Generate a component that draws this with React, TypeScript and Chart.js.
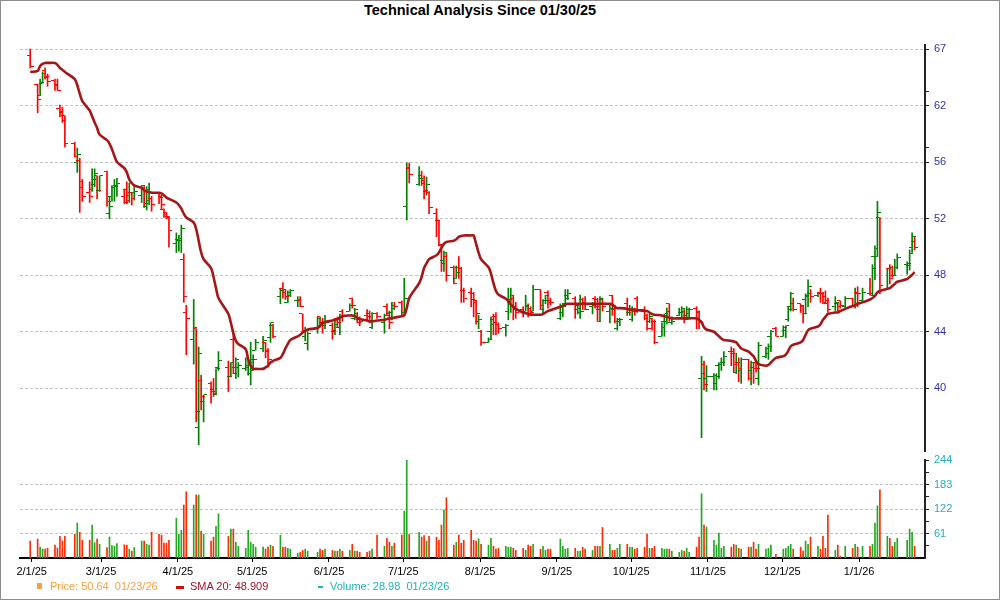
import { useEffect, useRef } from 'react';
import { Chart, registerables } from 'chart.js';

Chart.register(...registerables);

// sessions run from the first to the last bar, weekdays minus market holidays
const firstSession = '2025-01-31';
const lastSession = '2026-01-23';
const holidays = [
  '2025-02-17', '2025-04-18', '2025-05-26', '2025-06-19', '2025-07-04',
  '2025-09-01', '2025-11-27', '2025-12-25', '2026-01-01', '2026-01-19',
];

const monthLabels = [
  '2/1/25', '3/1/25', '4/1/25', '5/1/25', '6/1/25', '7/1/25',
  '8/1/25', '9/1/25', '10/1/25', '11/1/25', '12/1/25', '1/1/26',
];

// log-spaced price grid (labels are the rounded values)
const priceTicks = [40, 43.6, 47.52, 51.8, 56.46, 61.54, 67.08];
const priceMinorTicks = [57.77, 62.92];
const volumeTicks = [61, 122, 183, 244];
const volumeMinorTicks = [30.5, 91.5, 152.5, 213.5];

const opens = [
  66.4,
  63.6, 62.5, 63.7, 64.9, 64.3, 64.0, 63.6, 61.3, 60.9, 60.6, 58.1, 56.4, 56.6, 54.3, 53.9, 54.2, 54.6, 55.3, 54.1,
  55.7, 52.2, 53.6, 54.3, 54.5, 53.6, 54.2, 53.7, 53.9, 53.9, 53.7, 54.2, 52.8, 53.3, 53.4, 53.8, 53.6, 52.5, 52.3, 52.0, 49.9,
  50.2, 50.1, 48.7, 44.9, 43.1, 43.8, 37.7, 40.5, 39.2, 40.3, 39.9, 39.6, 41.3, 41.3, 40.7, 43.1, 41.3, 41.3, 41.2, 41.4, 40.9,
  41.1, 42.4, 42.5, 42.9, 42.4, 43.2, 44.0, 46.0, 46.6, 46.3, 45.6, 46.1, 45.7, 45.7, 44.8, 43.3, 42.8, 43.9, 44.6, 44.2, 44.0,
  44.0, 43.6, 44.5, 43.9, 45.0, 45.0, 45.9, 44.5, 44.8, 44.4, 44.7, 44.8, 43.9, 44.8, 44.2, 45.3, 44.8, 44.9, 45.4, 45.6,
  44.9, 52.8, 55.9, 54.6, 55.3, 54.9, 54.0, 53.9, 52.2, 51.7, 49.7, 48.6, 48.9, 48.1, 47.3, 48.1, 48.0, 46.4, 46.3, 46.2, 45.6, 44.3,
  43.6, 42.9, 43.6, 44.4, 44.6, 44.1, 43.9, 45.0, 45.6, 45.9, 45.3, 45.1, 45.0, 45.4, 45.2, 45.0, 46.5, 45.4, 45.7, 46.3, 45.7,
  44.5, 44.9, 45.5, 46.1, 45.9, 45.1, 44.9, 45.8, 45.6, 45.3, 45.9, 45.8, 45.1, 45.8, 45.0, 46.1, 45.1, 43.8, 44.3, 45.5, 44.9,
  44.4, 45.1, 45.9, 45.1, 44.7, 44.3, 44.5, 44.3, 43.3, 44.3, 44.3, 45.5, 44.2, 44.7, 44.9, 45.0, 44.7, 44.8, 45.2, 44.9, 40.6, 41.5, 40.6,
  40.7, 40.3, 41.4, 41.5, 41.6, 42.3, 42.3, 41.0, 41.6, 41.1, 41.8, 41.1, 41.3, 41.6, 40.6, 42.0, 42.2, 43.3, 43.8,
  43.3, 43.7, 44.4, 45.3, 45.5, 45.5, 45.3, 45.8, 46.0, 46.2, 46.1, 46.3, 46.2, 46.0, 45.5, 45.3, 45.5, 45.7, 45.3, 45.9, 45.3, 46.3,
  45.7, 46.2, 46.2, 48.9, 48.9, 51.9, 46.5, 48.0, 48.1, 47.5, 48.1, 48.3, 48.2, 49.6, 50.0,
];

const highs = [
  67.1,
  63.6, 64.1, 64.8, 65.2, 64.6, 64.1, 64.1, 61.6, 61.4, 60.6, 58.2, 57.7, 56.8, 55.0, 54.8, 55.9, 55.9, 55.3, 55.3,
  55.7, 53.6, 54.5, 55.0, 55.1, 54.2, 54.8, 54.7, 53.9, 54.4, 54.5, 54.4, 54.4, 54.7, 53.6, 53.8, 53.7, 52.6, 52.3, 52.0, 50.7,
  50.5, 51.3, 49.1, 45.4, 45.8, 43.8, 42.6, 40.8, 39.6, 40.4, 40.6, 41.2, 42.3, 41.7, 41.6, 43.7, 41.9, 41.6, 41.9, 41.7, 42.9,
  42.1, 43.1, 43.3, 42.9, 42.5, 44.2, 44.1, 46.6, 47.0, 46.5, 46.4, 46.5, 46.0, 46.0, 44.8, 43.9, 43.6, 44.6, 44.6, 44.5, 44.7,
  44.2, 44.5, 44.6, 44.8, 45.1, 45.5, 45.9, 45.2, 44.9, 44.6, 45.1, 45.0, 44.9, 44.9, 44.8, 45.5, 45.0, 45.6, 45.6, 45.7,
  47.3, 56.4, 56.4, 56.1, 55.7, 55.3, 55.2, 54.0, 52.6, 51.7, 49.8, 49.3, 49.2, 48.2, 48.2, 48.9, 48.1, 46.6, 46.6, 46.3, 45.7, 44.7,
  43.7, 43.2, 44.6, 44.8, 44.9, 44.2, 44.1, 46.6, 46.6, 46.1, 45.6, 45.3, 46.1, 45.5, 45.3, 46.8, 46.5, 45.8, 46.1, 46.4, 45.9,
  45.5, 45.5, 46.5, 46.5, 46.0, 45.5, 46.1, 45.9, 46.0, 45.6, 46.0, 45.9, 46.0, 45.9, 45.5, 46.1, 45.4, 44.5, 44.5, 45.9, 45.4,
  45.3, 45.2, 46.0, 45.3, 44.8, 44.8, 44.5, 44.4, 44.2, 44.8, 45.2, 45.5, 44.6, 45.2, 45.3, 45.1, 45.3, 45.2, 45.3, 45.0, 42.0, 41.7, 41.4,
  40.9, 40.9, 41.6, 41.9, 42.3, 42.6, 42.5, 42.2, 41.9, 41.9, 41.8, 41.7, 41.6, 41.7, 42.9, 42.6, 42.8, 43.7, 43.9,
  44.0, 44.0, 45.3, 46.3, 45.9, 45.5, 45.4, 46.2, 47.2, 46.5, 46.3, 46.6, 46.3, 46.4, 45.9, 46.0, 45.6, 45.7, 46.0, 45.9, 46.6, 46.7,
  46.6, 47.3, 48.3, 49.7, 53.2, 51.9, 48.0, 48.3, 48.2, 48.7, 49.1, 48.5, 49.4, 50.7, 50.4,
];

const lows = [
  65.2,
  60.9, 62.5, 63.7, 64.1, 63.4, 63.0, 63.0, 60.5, 60.0, 57.8, 56.9, 55.6, 52.3, 53.2, 53.1, 54.0, 54.4, 53.4, 54.0,
  52.8, 51.8, 53.2, 53.2, 53.6, 53.0, 53.0, 53.1, 52.9, 53.3, 53.1, 52.7, 52.5, 52.9, 52.4, 53.0, 52.6, 51.9, 51.8, 49.6, 49.2,
  49.3, 49.2, 45.6, 42.1, 41.5, 38.0, 36.7, 38.7, 38.0, 39.1, 39.5, 39.6, 41.1, 39.8, 40.7, 40.9, 40.6, 40.7, 41.1, 40.8, 40.2,
  41.1, 42.4, 42.3, 41.9, 41.3, 42.9, 43.2, 45.5, 45.9, 45.8, 45.6, 46.0, 45.3, 45.3, 43.6, 43.0, 42.4, 43.5, 43.9, 43.5, 43.8,
  43.1, 43.4, 43.9, 43.4, 44.3, 45.0, 45.2, 44.4, 44.2, 44.0, 44.4, 44.2, 43.8, 44.5, 43.5, 44.7, 43.8, 44.4, 45.1, 44.7,
  44.7, 51.7, 54.7, 54.5, 54.5, 53.4, 53.7, 52.2, 50.4, 49.7, 47.8, 47.8, 47.1, 46.9, 47.3, 47.3, 45.6, 45.6, 45.3, 44.6, 44.1, 43.8,
  42.7, 42.9, 43.1, 43.4, 43.4, 43.5, 43.3, 44.4, 44.9, 44.4, 44.5, 44.6, 45.0, 44.6, 44.7, 45.0, 45.1, 44.8, 45.5, 45.2, 45.4,
  44.4, 44.6, 45.3, 45.8, 44.5, 44.8, 44.5, 45.1, 45.1, 44.8, 45.2, 44.3, 44.3, 45.0, 44.2, 44.7, 44.2, 43.7, 44.0, 44.7, 44.7,
  44.3, 44.7, 44.9, 44.4, 43.7, 44.2, 43.7, 42.8, 43.3, 43.3, 44.1, 44.3, 44.1, 44.7, 44.6, 44.2, 44.6, 44.6, 43.8, 43.8, 37.1, 39.9, 39.8,
  39.9, 39.9, 40.6, 41.1, 41.4, 41.4, 41.0, 40.9, 40.4, 40.3, 40.5, 40.2, 40.3, 41.0, 40.2, 41.9, 41.8, 42.3, 43.3,
  43.3, 43.2, 44.3, 45.0, 45.0, 44.9, 44.2, 44.8, 45.3, 45.6, 46.0, 45.6, 45.5, 45.5, 44.9, 45.0, 45.0, 45.2, 45.2, 45.3, 45.2, 45.3,
  45.6, 46.1, 46.1, 47.2, 48.9, 46.2, 46.5, 46.9, 47.4, 47.5, 48.0, 47.6, 47.9, 49.2, 49.4,
];

const closes = [
  65.3,
  62.1, 63.8, 64.6, 64.4, 63.9, 63.5, 63.0, 61.0, 60.2, 58.1, 57.0, 57.1, 54.8, 53.6, 53.6, 55.0, 55.5, 54.1, 55.3,
  53.2, 52.8, 54.3, 54.4, 54.7, 53.1, 53.3, 53.9, 53.4, 54.0, 54.5, 53.0, 54.2, 53.9, 52.9, 53.5, 52.9, 52.1, 51.9, 50.9, 50.1,
  50.3, 51.0, 46.0, 44.5, 43.9, 38.6, 42.2, 39.5, 39.6, 39.8, 39.7, 41.2, 41.7, 40.7, 41.6, 40.9, 41.8, 41.4, 41.3, 41.6, 41.8,
  41.8, 42.9, 43.0, 42.3, 41.8, 44.2, 43.3, 46.4, 46.5, 46.0, 46.3, 46.4, 45.8, 45.3, 43.7, 43.7, 43.5, 44.5, 44.2, 44.0, 44.2,
  43.7, 44.1, 44.2, 44.6, 44.6, 45.4, 45.4, 45.1, 44.2, 44.3, 44.6, 44.3, 44.8, 44.6, 44.7, 44.7, 44.2, 45.2, 45.3, 44.7,
  45.9, 56.0, 55.4, 55.1, 54.7, 54.1, 54.6, 52.7, 51.7, 49.8, 48.4, 49.2, 47.5, 46.9, 47.7, 48.0, 46.4, 45.9, 45.8, 45.7, 44.8, 44.4,
  42.9, 43.1, 44.1, 44.2, 44.1, 43.8, 44.0, 45.8, 46.1, 45.1, 44.9, 44.9, 45.3, 44.8, 44.9, 46.5, 45.1, 45.7, 46.1, 45.6, 45.6,
  45.3, 45.3, 45.9, 46.2, 45.4, 45.2, 45.0, 45.5, 45.1, 45.4, 45.3, 44.3, 45.9, 45.3, 45.2, 45.2, 44.3, 44.4, 44.4, 44.9, 45.1,
  45.0, 45.0, 45.1, 44.5, 43.8, 44.6, 44.3, 42.9, 43.9, 44.8, 45.0, 44.5, 44.3, 44.9, 45.2, 44.4, 45.1, 45.1, 45.0, 44.2, 40.9, 40.2, 40.7,
  40.8, 40.7, 41.5, 41.6, 42.0, 42.2, 41.5, 41.6, 41.2, 41.8, 40.6, 41.6, 41.2, 41.2, 42.7, 42.5, 42.6, 43.6, 43.3,
  43.9, 44.0, 45.1, 46.2, 45.1, 45.4, 44.8, 46.1, 46.7, 46.0, 46.2, 46.2, 45.6, 45.7, 45.1, 45.6, 45.3, 45.4, 45.9, 45.4, 46.2, 46.2,
  46.3, 46.1, 48.0, 49.5, 52.3, 46.8, 48.0, 47.3, 47.5, 48.1, 48.8, 48.4, 49.1, 50.4, 49.6,
];

// volume, thousands of shares
const volumes = [
  42,
  47, 27, 22, 22, 24, 32, 25, 54, 42, 54, 59, 87, 64, 44, 44, 82, 38, 47, 34,
  26, 52, 31, 29, 36, 33, 32, 22, 17, 26, 42, 42, 34, 32, 64, 59, 57, 37, 37, 44, 99,
  59, 69, 132, 165, 132, 157, 157, 67, 59, 42, 52, 79, 110, 54, 72, 72, 39, 29, 24, 69, 39,
  34, 27, 27, 22, 27, 32, 29, 57, 27, 27, 24, 22, 12, 14, 19, 22, 17, 14, 22, 19, 22,
  19, 17, 17, 22, 17, 19, 34, 17, 17, 14, 14, 17, 22, 57, 29, 49, 39, 29, 37, 57,
  117, 244, 59, 64, 52, 56, 42, 54, 52, 44, 82, 120, 150, 32, 39, 57, 37, 44, 69, 44, 42, 48,
  34, 32, 49, 29, 22, 24, 29, 27, 27, 24, 19, 24, 19, 32, 29, 34, 22, 29, 19, 22, 22,
  47, 29, 22, 24, 24, 17, 17, 27, 22, 19, 29, 29, 29, 76, 34, 19, 19, 24, 34, 34, 27,
  27, 22, 24, 27, 59, 24, 24, 29, 24, 22, 22, 22, 17, 14, 19, 17, 24, 14, 27, 52, 160, 82, 77,
  44, 32, 62, 24, 29, 27, 34, 32, 24, 22, 27, 27, 39, 22, 34, 22, 24, 32, 9,
  22, 24, 29, 34, 22, 27, 17, 42, 34, 52, 29, 22, 54, 24, 107, 19, 32, 4, 29, 24, 34, 27,
  29, 29, 34, 87, 130, 170, 54, 49, 29, 39, 49, 44, 72, 64, 29,
];

// 20-day simple moving average, as drawn
const sma20 = [
  64.8,
  64.9, 65.4, 65.6, 65.7, 65.7, 65.7, 65.5, 65.2, 65.0, 64.8, 64.1, 63.5, 62.7, 62.0, 61.1, 60.55, 60.0, 59.5, 58.9,
  58.4, 58.1, 57.6, 57.0, 56.5, 55.95, 55.6, 55.0, 54.7, 54.5, 54.3, 54.1, 54.0, 53.95, 53.9, 53.9, 53.85, 53.7, 53.5, 53.4, 53.1,
  52.9, 52.6, 52.2, 51.9, 51.5, 51.0, 50.1, 49.2, 48.7, 48.05, 47.4, 46.6, 45.9, 44.8, 44.2, 43.5, 43.0, 42.8, 42.45, 41.8, 41.4,
  41.2, 41.2, 41.2, 41.3, 41.4, 41.6, 41.7, 41.9, 42.15, 42.5, 42.8, 43.05, 43.3, 43.4, 43.55, 43.65, 43.75, 43.85, 44.0, 44.15, 44.25,
  44.35, 44.4, 44.45, 44.55, 44.65, 44.7, 44.7, 44.65, 44.55, 44.45, 44.35, 44.3, 44.3, 44.35, 44.4, 44.45, 44.5, 44.5, 44.55, 44.65,
  44.7, 45.2, 45.9, 46.95, 47.4, 48.05, 48.4, 48.7, 49.0, 49.2, 49.55, 49.85, 50.0, 50.1, 50.2, 50.4, 50.45, 50.5, 50.5, 50.5, 49.85, 49.2,
  48.7, 48.1, 47.65, 46.95, 46.4, 46.15, 45.85, 45.7, 45.45, 45.3, 45.15, 44.9, 44.85, 44.8, 44.75, 44.75, 44.75, 44.8, 44.9, 45.0, 45.05,
  45.3, 45.35, 45.45, 45.5, 45.5, 45.5, 45.5, 45.5, 45.5, 45.5, 45.5, 45.5, 45.5, 45.5, 45.5, 45.45, 45.3, 45.2, 45.2, 45.15, 45.1,
  45.1, 45.1, 45.05, 45.0, 45.0, 44.9, 44.8, 44.75, 44.7, 44.65, 44.6, 44.55, 44.5, 44.5, 44.5, 44.5, 44.5, 44.5, 44.5, 44.4, 44.25, 43.9, 43.75,
  43.6, 43.45, 43.3, 43.15, 43.05, 43.0, 42.95, 42.9, 42.7, 42.5, 42.3, 42.15, 42.0, 41.7, 41.5, 41.4, 41.45, 41.6, 41.9,
  42.0, 42.1, 42.35, 42.65, 42.75, 42.9, 43.05, 43.4, 43.7, 43.8, 43.95, 44.1, 44.4, 44.6, 44.8, 44.9, 44.9, 45.0, 45.15, 45.35, 45.4, 45.5,
  45.6, 45.8, 45.9, 46.05, 46.3, 46.4, 46.55, 46.6, 46.75, 46.9, 47.05, 47.25, 47.4, 47.55, 47.75,
];

const DAY = 86400000;
const ORIGIN = Date.UTC(2025, 1, 1);
const X_MIN = -4.72;
const X_MAX = 360.6;
const STAMP = 0.4; // bars sit a little after midnight of their session

const FONT = 'Arial, "Liberation Sans", sans-serif';
const UP = '#008000';
const DOWN = '#ff0000';
const VOL_UP = '#22a822';
const VOL_DOWN = '#ff2a00';
const GRID = '#c2c2c2';

function sessionDays(): number[] {
  const out: number[] = [];
  const end = Date.parse(lastSession);
  for (let t = Date.parse(firstSession); t <= end; t += DAY) {
    const d = new Date(t);
    const wd = d.getUTCDay();
    if (wd === 0 || wd === 6) continue;
    if (holidays.includes(d.toISOString().slice(0, 10))) continue;
    out.push((t - ORIGIN) / DAY);
  }
  return out;
}

function labelDay(label: string) {
  const [m, d, y] = label.split('/').map(Number);
  return (Date.UTC(2000 + y, m - 1, d) - ORIGIN) / DAY;
}

// little horizontal tick used as point style for open (left) / close (right)
function tickMark(color: string, side: 'left' | 'right') {
  const c = document.createElement('canvas');
  c.width = 7;
  c.height = 1;
  const g = c.getContext('2d')!;
  g.fillStyle = color;
  g.fillRect(side === 'left' ? 0 : 4, 0, 3, 1);
  return c;
}

function xAxis(show: boolean): any {
  return {
    type: 'linear',
    min: X_MIN,
    max: X_MAX,
    bounds: 'data',
    offset: false,
    display: show,
    position: 'bottom',
    afterBuildTicks: (s: any) => {
      s.ticks = monthLabels.map((l) => ({ value: labelDay(l) }));
    },
    afterFit: (s: any) => {
      if (show) s.height = 22;
    },
    grid: { drawOnChartArea: false, drawTicks: true, tickLength: 4, tickColor: '#000', tickWidth: 1, offset: false },
    border: { display: true, color: '#000', width: 2 },
    ticks: {
      autoSkip: false,
      maxRotation: 0,
      padding: 3,
      color: '#000',
      font: { family: FONT, size: 11 },
      callback: (_v: number, i: number) => monthLabels[i],
    },
  };
}

export default function App() {
  const priceRef = useRef<HTMLCanvasElement>(null);
  const volumeRef = useRef<HTMLCanvasElement>(null);

  useEffect(() => {
    document.body.style.margin = '0';
    const xs = sessionDays().map((d) => d + STAMP);
    const up = closes.map((c, i) => c >= opens[i]);
    const openUp = tickMark(UP, 'left');
    const openDown = tickMark(DOWN, 'left');
    const closeUp = tickMark(UP, 'right');
    const closeDown = tickMark(DOWN, 'right');

    const charts: Chart[] = [];

    if (priceRef.current) {
      charts.push(
        new Chart(priceRef.current, {
          type: 'bar',
          data: {
            datasets: [
              {
                type: 'line',
                label: 'SMA 20',
                data: xs.map((x, i) => ({ x, y: sma20[i] })),
                borderColor: '#a51717',
                borderWidth: 2.6,
                pointRadius: 0,
                tension: 0.3,
                order: 0,
              },
              {
                type: 'line',
                label: 'Open',
                data: xs.map((x, i) => ({ x, y: opens[i] })),
                showLine: false,
                pointRadius: 3,
                pointHoverRadius: 3,
                pointStyle: (ctx: any) => (up[ctx.dataIndex] ? openUp : openDown),
                order: 1,
              },
              {
                type: 'line',
                label: 'Close',
                data: xs.map((x, i) => ({ x, y: closes[i] })),
                showLine: false,
                pointRadius: 3,
                pointHoverRadius: 3,
                pointStyle: (ctx: any) => (up[ctx.dataIndex] ? closeUp : closeDown),
                order: 1,
              },
              {
                type: 'bar',
                label: 'Range',
                data: xs.map((x, i) => ({ x, y: [lows[i], highs[i]] })),
                backgroundColor: up.map((u) => (u ? UP : DOWN)),
                barThickness: 1,
                borderWidth: 0,
                order: 2,
              },
            ],
          } as any,
          options: {
            animation: false,
            responsive: true,
            maintainAspectRatio: false,
            events: [],
            layout: { padding: { left: 20, top: 45, right: 0, bottom: 19 } },
            plugins: { legend: { display: false }, tooltip: { enabled: false } },
            scales: {
              x: xAxis(false),
              y: {
                type: 'logarithmic',
                position: 'right',
                min: 36.35,
                max: 67.52,
                bounds: 'data',
                afterBuildTicks: (s: any) => {
                  s.ticks = [...priceTicks, ...priceMinorTicks].sort((a, b) => a - b).map((v) => ({ value: v }));
                },
                afterFit: (s: any) => {
                  s.width = 75;
                },
                border: { display: true, color: '#222', width: 2, dash: [3, 2] },
                grid: {
                  color: (ctx: any) => (ctx.tick && priceTicks.includes(ctx.tick.value) ? GRID : 'rgba(0,0,0,0)'),
                  drawTicks: true,
                  tickLength: 4,
                  tickColor: '#222',
                  tickBorderDash: [],
                },
                ticks: {
                  autoSkip: false,
                  padding: 5,
                  color: '#3232a8',
                  font: { family: FONT, size: 11 },
                  callback: (v: number) => (priceTicks.includes(v) ? String(Math.round(v)) : ''),
                },
              },
            },
          } as any,
        })
      );
    }

    if (volumeRef.current) {
      charts.push(
        new Chart(volumeRef.current, {
          type: 'bar',
          data: {
            datasets: [
              {
                label: 'Volume',
                data: xs.map((x, i) => ({ x, y: volumes[i] })),
                backgroundColor: up.map((u) => (u ? VOL_UP : VOL_DOWN)),
                barThickness: 1,
                borderWidth: 0,
              },
            ],
          } as any,
          options: {
            animation: false,
            responsive: true,
            maintainAspectRatio: false,
            events: [],
            layout: { padding: { left: 20, top: 20, right: 0, bottom: 0 } },
            plugins: { legend: { display: false }, tooltip: { enabled: false } },
            scales: {
              x: xAxis(true),
              y: {
                type: 'linear',
                position: 'right',
                min: 0,
                max: 244,
                bounds: 'data',
                afterBuildTicks: (s: any) => {
                  s.ticks = [...volumeTicks, ...volumeMinorTicks].sort((a, b) => a - b).map((v) => ({ value: v }));
                },
                afterFit: (s: any) => {
                  s.width = 75;
                },
                border: { display: true, color: '#222', width: 2, dash: [3, 2] },
                grid: {
                  color: (ctx: any) =>
                    ctx.tick && volumeTicks.includes(ctx.tick.value) && ctx.tick.value < 244 ? GRID : 'rgba(0,0,0,0)',
                  drawTicks: true,
                  tickLength: 4,
                  tickColor: '#222',
                  tickBorderDash: [],
                },
                ticks: {
                  autoSkip: false,
                  padding: 5,
                  color: '#1fb0c0',
                  font: { family: FONT, size: 11 },
                  callback: (v: number) => (volumeTicks.includes(v) ? String(v) : ''),
                },
              },
            },
          } as any,
        })
      );
    }

    return () => charts.forEach((c) => c.destroy());
  }, []);

  return (
    <div
      style={{
        position: 'relative',
        width: 1000,
        height: 600,
        background: '#fff',
        fontFamily: FONT,
        overflow: 'hidden',
      }}
    >
      <div
        style={{
          position: 'absolute',
          left: 364,
          top: 3,
          fontSize: '14.5px',
          lineHeight: 1,
          fontWeight: 'bold',
          color: '#000',
          whiteSpace: 'nowrap',
        }}
      >
        Technical Analysis Since 01/30/25
      </div>
      <div style={{ position: 'absolute', left: 0, top: 0, width: 1000, height: 470 }}>
        <canvas ref={priceRef} />
      </div>
      <div style={{ position: 'absolute', left: 0, top: 440, width: 1000, height: 140 }}>
        <canvas ref={volumeRef} />
      </div>
      <div
        style={{
          position: 'absolute',
          left: 0,
          top: 581,
          fontSize: '11px',
          lineHeight: 1,
          whiteSpace: 'pre',
        }}
      >
        <span style={{ position: 'absolute', left: 37, top: 2, width: 5, height: 6, background: '#f4a23c' }} />
        <span style={{ position: 'absolute', left: 50, top: 0, color: '#f4a23c' }}>Price: 50.64  01/23/26</span>
        <span style={{ position: 'absolute', left: 176, top: 5, width: 8, height: 3, background: '#cc1010' }} />
        <span style={{ position: 'absolute', left: 190, top: 0, color: '#a0142a' }}>SMA 20: 48.909</span>
        <span style={{ position: 'absolute', left: 318, top: 5, width: 5, height: 2, background: '#1fb0c0' }} />
        <span style={{ position: 'absolute', left: 330, top: 0, color: '#1fb0c0' }}>Volume: 28.98  01/23/26</span>
      </div>
      <div
        style={{
          position: 'absolute',
          inset: 0,
          border: '1px solid #8c8c8c',
          boxSizing: 'border-box',
          pointerEvents: 'none',
        }}
      />
    </div>
  );
}
